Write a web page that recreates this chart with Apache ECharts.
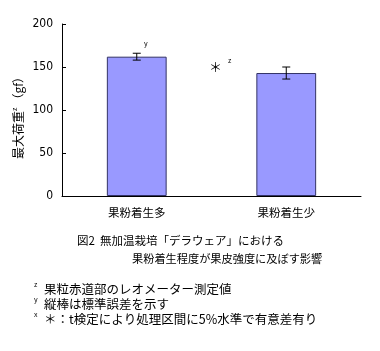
<!DOCTYPE html>
<html><head><meta charset="utf-8">
<script src="https://cdn.jsdelivr.net/npm/echarts@6/dist/echarts.min.js"></script>
<style>html,body{margin:0;padding:0;background:#fff}#c{width:380px;height:351px}</style>
</head><body><div id="c"></div>
<script>
const categories = ["果粉着生多", "果粉着生少"];
const values = [162, 143];
const errors = [4, 7];
const yTicks = [0, 50, 100, 150, 200];

const F = '"Noto Sans CJK JP", sans-serif';
const chart = echarts.init(document.getElementById('c'));
chart.setOption({
  animation: false,
  backgroundColor: '#fff',
  grid: {left: 62, right: 19, top: 24, bottom: 155},
  xAxis: {
    type: 'category', data: categories, boundaryGap: true,
    axisLine: {lineStyle: {color: '#000', width: 1}},
    axisTick: {inside: true, length: 4, lineStyle: {color: '#000'}},
    axisLabel: {color: '#000', fontSize: 11.5, fontFamily: F, margin: 11}
  },
  yAxis: {
    type: 'value', min: yTicks[0], max: yTicks[yTicks.length-1], interval: 50,
    axisLine: {show: true, lineStyle: {color: '#000', width: 1}},
    axisTick: {show: true, inside: true, length: 4, lineStyle: {color: '#000'}},
    splitLine: {show: false},
    axisLabel: {color: '#000', fontSize: 12, fontFamily: '"Liberation Sans Narrow", "DejaVu Sans Condensed", sans-serif', margin: 9}
  },
  series: [
    {
      type: 'bar', data: values, barWidth: '40%',
      itemStyle: {color: '#9999ff', borderColor: '#333366', borderWidth: 1}
    },
    {
      type: 'custom',
      data: values.map((v, i) => [i, v - errors[i], v + errors[i]]),
      renderItem: function (params, api) {
        const x = api.value(0);
        const lo = api.coord([x, api.value(1)]);
        const hi = api.coord([x, api.value(2)]);
        const w = 4;
        const st = {stroke: '#000', lineWidth: 1};
        return {type: 'group', children: [
          {type: 'line', shape: {x1: lo[0], y1: lo[1], x2: hi[0], y2: hi[1]}, style: st},
          {type: 'line', shape: {x1: lo[0]-w, y1: lo[1], x2: lo[0]+w, y2: lo[1]}, style: st},
          {type: 'line', shape: {x1: hi[0]-w, y1: hi[1], x2: hi[0]+w, y2: hi[1]}, style: st}
        ]};
      },
      z: 5
    }
  ],
  graphic: [
    {type: 'text', left: 144, top: 40, style: {text: 'y', font: '7px ' + F, fill: '#000'}},
    {type: 'text', left: 209, top: 61, style: {text: '＊', font: '13px ' + F, fill: '#000'}},
    {type: 'text', left: 228, top: 57, style: {text: 'z', font: '7px ' + F, fill: '#000'}},
    {type: 'text', x: 18, y: 115, rotation: Math.PI/2,
      style: {text: '最大荷重{s|z}（gf）', font: '12px ' + F, fill: '#000', align: 'center', verticalAlign: 'middle',
        rich: {s: {fontSize: 7, verticalAlign: 'top', padding: [0,2,6,0]}}}},
    {type: 'text', left: 77, top: 235, style: {text: '図2  無加温栽培「デラウェア」における', font: '11.5px ' + F, fill: '#000'}},
    {type: 'text', left: 132, top: 253, style: {text: '果粉着生程度が果皮強度に及ぼす影響', font: '11.2px ' + F, fill: '#000'}},
    {type: 'text', left: 34, top: 281, style: {text: 'z', font: '7px ' + F, fill: '#000'}},
    {type: 'text', left: 44, top: 283, style: {text: '果粒赤道部のレオメーター測定値', font: '12.5px ' + F, fill: '#000'}},
    {type: 'text', left: 34, top: 296, style: {text: 'y', font: '7px ' + F, fill: '#000'}},
    {type: 'text', left: 44, top: 298, style: {text: '縦棒は標準誤差を示す', font: '12.5px ' + F, fill: '#000'}},
    {type: 'text', left: 34, top: 311, style: {text: 'x', font: '7px ' + F, fill: '#000'}},
    {type: 'text', left: 44, top: 313, style: {text: '＊：t検定により処理区間に5%水準で有意差有り', font: '12.5px ' + F, fill: '#000'}}
  ]
});
</script></body></html>
